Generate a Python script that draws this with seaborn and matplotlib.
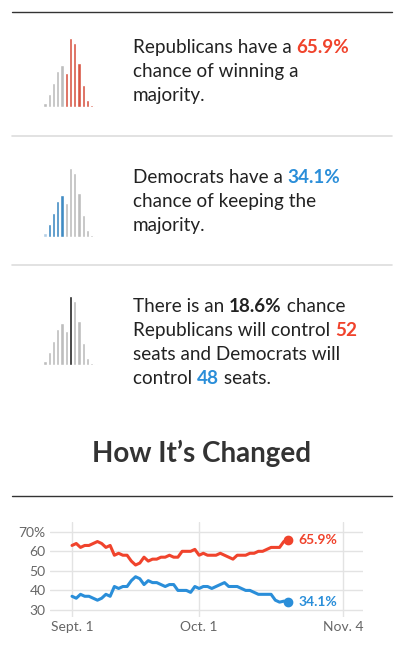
import matplotlib
matplotlib.use("Agg")
import matplotlib.pyplot as plt
import seaborn as sns
import pandas as pd

# seat distribution (chance %, Republican seats 43..59)
seat_chance = [0.1, 0.1, 0.1, 0.4, 1.2, 3.5, 6.4, 9.8, 11.5, 9.3, 18.6, 17.3, 12.0, 6.0, 1.9, 0.5, 0.3]
rep_from = 9
dem_to = 8
exact_idx = 10

# majority chances over time (days since Sept. 1)
rep_line = [63, 64, 62, 63, 63, 64, 65, 64, 62, 63, 58, 59, 58, 58, 55, 53, 54, 57, 55, 56,
            56, 57, 57, 58, 57, 57, 60, 60, 60, 61, 58, 59, 58, 58, 58, 59, 58, 57, 56, 58,
            58, 58, 59, 59, 60, 60, 61, 62, 62, 62, 65, 65.9]
dem_line = [37, 36, 38, 37, 37, 36, 35, 36, 38, 37, 42, 41, 42, 42, 45, 47, 46, 43, 45, 44,
            44, 43, 42, 43, 43, 40, 40, 40, 39, 42, 41, 42, 42, 41, 42, 43, 44, 42, 42, 42,
            41, 40, 40, 39, 38, 38, 38, 38, 35, 34, 34.5, 34.1]
x_ticks = [0, 30, 64]
x_labels = ["Sept. 1", "Oct. 1", "Nov. 4"]

RED = "#f0432c"
BLUE = "#2a8ed9"
GRAY = "#bdbdbd"
DARK = "#222222"

sns.set_style("white")
plt.rcParams["font.family"] = ["Lato", "DejaVu Sans"]

W, H = 404, 660
fig = plt.figure(figsize=(W / 100, H / 100), dpi=100)


def px_axes(x0, y0, x1, y1):
    return fig.add_axes([x0 / W, 1 - y1 / H, (x1 - x0) / W, (y1 - y0) / H])


def hline(y, x0=12, x1=392, color="#dddddd", lw=1.2):
    fig.add_artist(plt.Line2D([x0 / W, x1 / W], [1 - y / H, 1 - y / H], color=color, lw=lw))


def rich_line(x, y, parts, size=13.6):
    r = fig.canvas.get_renderer()
    cx = x
    for txt, col, bold in parts:
        t = fig.text(cx / W, 1 - y / H, txt, color=col, fontsize=size,
                     fontweight="bold" if bold else "normal", va="baseline")
        bb = t.get_window_extent(r)
        cx += bb.width


def hist(y_base, colors):
    ax = px_axes(26, y_base - 70, 98, y_base)
    df = pd.DataFrame({"i": range(len(seat_chance)), "v": seat_chance})
    sns.barplot(data=df, x="i", y="v", hue="i", palette=colors, legend=False,
                width=0.75, dodge=False, ax=ax)
    ax.set_ylim(0, 19)
    ax.axis("off")


n = len(seat_chance)
hline(12, color="#333333", lw=1)
hist(107, [RED if i >= rep_from else GRAY for i in range(n)])
rich_line(133, 53, [("Republicans have a ", DARK, False), ("65.9%", RED, True)])
rich_line(133, 77, [("chance of winning a", DARK, False)])
rich_line(133, 101, [("majority.", DARK, False)])

hline(136)
hist(237, [BLUE if 5 <= i <= dem_to else ("#a9cfee" if i < 5 else GRAY) for i in range(n)])
rich_line(133, 183, [("Democrats have a ", DARK, False), ("34.1%", BLUE, True)])
rich_line(133, 207, [("chance of keeping the", DARK, False)])
rich_line(133, 231, [("majority.", DARK, False)])

hline(265)
hist(365, [DARK if i == exact_idx else GRAY for i in range(n)])
rich_line(133, 312, [("There is an ", DARK, False), ("18.6%", DARK, True), (" chance", DARK, False)])
rich_line(133, 336, [("Republicans will control ", DARK, False), ("52", RED, True)])
rich_line(133, 360, [("seats and Democrats will", DARK, False)])
rich_line(133, 384, [("control ", DARK, False), ("48", BLUE, True), (" seats.", DARK, False)])

fig.text(0.5, 1 - 462 / H, "How It\u2019s Changed", ha="center", va="baseline",
         fontsize=20, fontweight="bold", color="#333333")
hline(496, color="#333333", lw=1)

ax = px_axes(50, 522, 363, 617)
days = list(range(len(rep_line)))
df = pd.DataFrame({"day": days * 2, "val": rep_line + dem_line,
                   "party": ["R"] * len(days) + ["D"] * len(days)})
sns.lineplot(data=df, x="day", y="val", hue="party", palette={"R": RED, "D": BLUE},
             lw=2.2, legend=False, ax=ax)
ax.plot(days[-1], rep_line[-1], "o", color=RED, ms=6)
ax.plot(days[-1], dem_line[-1], "o", color=BLUE, ms=6)
ax.text(days[-1] + 2.5, rep_line[-1], f"{rep_line[-1]}%", color=RED, fontsize=10,
        fontweight="bold", va="center")
ax.text(days[-1] + 2.5, dem_line[-1], f"{dem_line[-1]}%", color=BLUE, fontsize=10,
        fontweight="bold", va="center")
ax.set_xlim(-5.2, 68.7)
ax.set_ylim(26.4, 75)
ax.set_yticks([30, 40, 50, 60, 70])
ax.set_yticklabels(["30", "40", "50", "60", "70%"])
ax.set_xticks(x_ticks)
ax.set_xticklabels(x_labels)
for s in ax.spines.values():
    s.set_visible(False)
for yv in [30, 40, 50, 60, 70]:
    ax.axhline(yv, color="#e3e3e3", lw=1, zorder=0)
for xv in x_ticks:
    ax.axvline(xv, color="#e3e3e3", lw=1, zorder=0)
ax.tick_params(length=0, labelsize=10, colors="#666666", pad=3)
ax.set_xlabel("")
ax.set_ylabel("")

fig.savefig("out.png", dpi=100)
